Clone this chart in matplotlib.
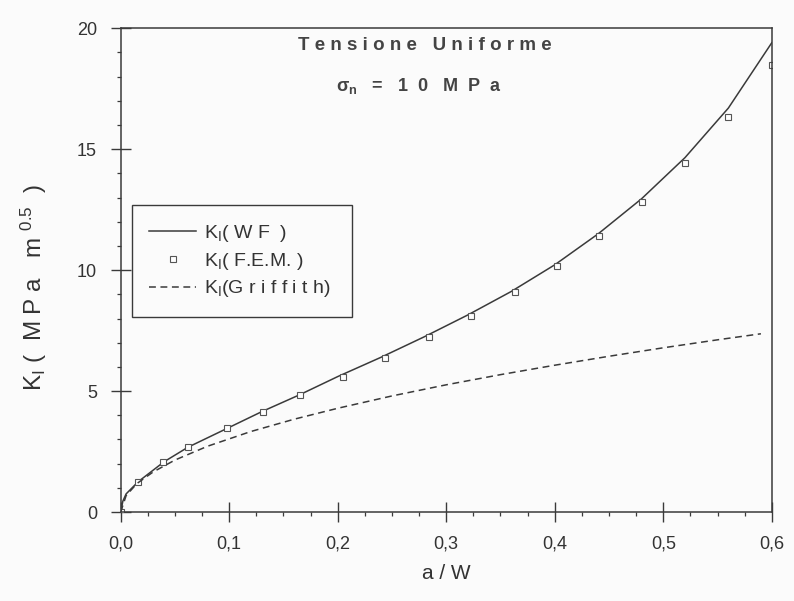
import numpy as np
import matplotlib
matplotlib.use("Agg")
import matplotlib.pyplot as plt
from matplotlib.ticker import MultipleLocator, FixedLocator, FixedFormatter

plt.rcParams["font.family"] = ["Liberation Sans", "DejaVu Sans"]
plt.rcParams["mathtext.fontset"] = "custom"
plt.rcParams["mathtext.rm"] = "Liberation Sans"
plt.rcParams["mathtext.it"] = "Liberation Sans:italic"
plt.rcParams["mathtext.bf"] = "Liberation Sans:bold"

INK = "#3a3a3a"

# K_I (WF) - weight function curve
wf_a = [0.0, 0.002, 0.005, 0.016, 0.04, 0.062, 0.1, 0.13, 0.165, 0.2, 0.24,
        0.28, 0.32, 0.36, 0.4, 0.44, 0.48, 0.52, 0.56, 0.6]
wf_k = [0.0, 0.45, 0.75, 1.25, 2.08, 2.68, 3.5, 4.15, 4.85, 5.6, 6.4,
        7.25, 8.15, 9.12, 10.22, 11.5, 12.95, 14.65, 16.7, 19.4]

# K_I (F.E.M.) points
fem_a = [0.0, 0.016, 0.039, 0.062, 0.098, 0.131, 0.165, 0.205, 0.244, 0.284,
         0.323, 0.363, 0.402, 0.441, 0.48, 0.52, 0.56, 0.6]
fem_k = [0.0, 1.24, 2.08, 2.68, 3.49, 4.15, 4.84, 5.6, 6.36, 7.24,
         8.1, 9.09, 10.19, 11.42, 12.8, 14.44, 16.33, 18.5]

# K_I (Griffith)
gr_a = [0.0, 0.005, 0.015, 0.03, 0.05, 0.08, 0.12, 0.16, 0.2, 0.25, 0.3,
        0.35, 0.4, 0.45, 0.5, 0.55, 0.59]
gr_k = [0.0, 0.68, 1.18, 1.66, 2.15, 2.72, 3.33, 3.84, 4.29, 4.8, 5.26,
        5.68, 6.07, 6.44, 6.79, 7.12, 7.37]

x_ticks = [0.0, 0.1, 0.2, 0.3, 0.4, 0.5, 0.6]
x_labels = ["0,0", "0,1", "0,2", "0,3", "0,4", "0,5", "0,6"]
y_ticks = [0, 5, 10, 15, 20]

fig = plt.figure(figsize=(7.94, 6.01), dpi=100, facecolor="#fbfbfb")
ax = fig.add_axes([0.152, 0.148, 0.820, 0.805])
ax.set_facecolor("#fbfbfb")

ax.plot(wf_a, wf_k, "-", color=INK, lw=1.1, label=r"K$_{\mathregular{I}}$( W F  )")
ax.plot(fem_a, fem_k, "s", ls="none", ms=4, mfc="white", mec="#555555", mew=0.8,
        label=r"K$_{\mathregular{I}}$( F.E.M. )")
ax.plot(gr_a, gr_k, "--", color=INK, lw=1.1, dashes=(4.5, 3),
        label=r"K$_{\mathregular{I}}$(G r i f f i t h)")

ax.set_xlim(0, 0.6)
ax.set_ylim(0, 20)
ax.xaxis.set_major_locator(FixedLocator(x_ticks))
ax.xaxis.set_major_formatter(FixedFormatter(x_labels))
ax.xaxis.set_minor_locator(MultipleLocator(0.025))
ax.yaxis.set_major_locator(FixedLocator(y_ticks))
ax.yaxis.set_minor_locator(MultipleLocator(1))

ax.tick_params(which="major", direction="inout", length=14, width=1.0,
               color=INK, labelsize=13, labelcolor="#333333", pad=10)
ax.tick_params(which="minor", direction="out", length=3, width=0.9, color=INK)
ax.tick_params(top=False, right=False, which="both")
for s in ax.spines.values():
    s.set_color(INK)
    s.set_linewidth(1.1)

ax.set_xlabel("a / W", fontsize=15, color="#333333", labelpad=8)
ax.set_ylabel(r"K$_{\mathregular{I}}$ (  M P a   m $^{\mathregular{0.5}}$  )",
              fontsize=17.5, color="#333333")
ax.yaxis.set_label_coords(-0.11, 0.465)

ax.text(0.28, 19.3, "T e n s i o n e   U n i f o r m e", ha="center", va="center",
        fontsize=13.5, fontweight="bold", color="#444444")
ax.text(0.275, 17.6, r"σ$_{\mathregular{n}}$   =   1  0   M  P  a", ha="center", va="center",
        fontsize=13, fontweight="bold", color="#444444")

leg = ax.legend(loc="upper left", bbox_to_anchor=(0.017, 0.409, 0.338, 0.225),
                mode="expand", borderaxespad=0,
                fontsize=14, frameon=True, fancybox=False, framealpha=1,
                edgecolor=INK, handlelength=2.4, handletextpad=0.4,
                labelspacing=0.35, borderpad=0.9, labelcolor="#333333")
leg.get_frame().set_linewidth(1.0)
leg.get_frame().set_facecolor("#fbfbfb")

fig.savefig("out.png", dpi=100, facecolor=fig.get_facecolor())
